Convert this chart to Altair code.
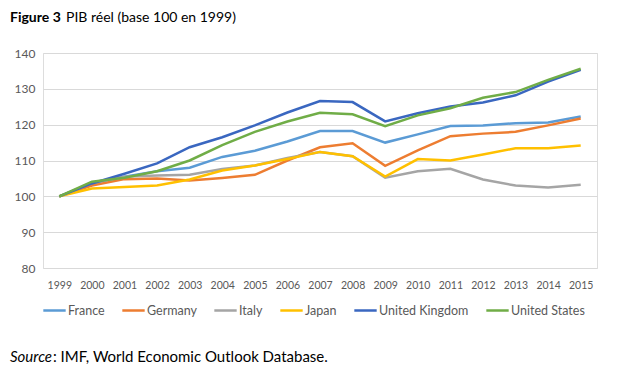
import altair as alt
import pandas as pd

years = [str(y) for y in range(1999, 2016)]
france = [100, 103.5, 105.5, 107.0, 108.0, 111.0, 112.7, 115.3, 118.2, 118.2, 115.0, 117.3, 119.6, 119.8, 120.4, 120.6, 122.3]
germany = [100, 103.0, 104.8, 105.0, 104.4, 105.1, 106.0, 110.0, 113.7, 114.8, 108.5, 112.8, 116.8, 117.5, 118.0, 119.8, 121.7]
italy = [100, 103.7, 105.5, 105.8, 106.0, 107.6, 108.6, 110.7, 112.4, 111.2, 105.2, 107.0, 107.7, 104.7, 103.0, 102.5, 103.2]
japan = [100, 102.2, 102.6, 103.0, 104.7, 107.2, 108.6, 110.4, 112.4, 111.2, 105.5, 110.4, 110.0, 111.7, 113.4, 113.4, 114.2]
uk = [100, 103.6, 106.3, 109.2, 113.7, 116.5, 119.8, 123.4, 126.6, 126.3, 120.9, 123.2, 125.1, 126.2, 128.2, 132.0, 135.3]
us = [100, 104.1, 105.2, 107.0, 110.0, 114.3, 118.0, 120.9, 123.3, 122.9, 119.6, 122.6, 124.6, 127.5, 129.1, 132.5, 135.6]

countries = ["France", "Germany", "Italy", "Japan", "United Kingdom", "United States"]
series = [france, germany, italy, japan, uk, us]
colors = ["#5B9BD5", "#ED7D31", "#A5A5A5", "#FFC000", "#3A67C0", "#70AD47"]

rows = []
for c, vals in zip(countries, series):
    for y, v in zip(years, vals):
        rows.append({"year": y, "value": v, "country": c})
df = pd.DataFrame(rows)

FONT = "Lato"

lines = alt.Chart(df).mark_line(strokeWidth=2.5).encode(
    x=alt.X("year:O", sort=years,
            scale=alt.Scale(type="point", padding=0.5),
            axis=alt.Axis(title=None, labelAngle=0, ticks=False, domain=False,
                          labelFontSize=10.5, labelColor="#595959", labelPadding=12,
                          labelFont=FONT)),
    y=alt.Y("value:Q", scale=alt.Scale(domain=[80, 140], nice=False, zero=False),
            axis=alt.Axis(title=None, values=[80, 90, 100, 110, 120, 130, 140],
                          ticks=False, domain=False, gridColor="#D9D9D9",
                          labelFontSize=12, labelColor="#595959", labelPadding=8,
                          labelFont=FONT)),
    color=alt.Color("country:N",
                    scale=alt.Scale(domain=countries, range=colors),
                    legend=alt.Legend(title=None, orient="none", direction="horizontal",
                                      legendX=-1, legendY=245,
                                      symbolType="stroke", symbolSize=500,
                                      symbolStrokeWidth=2.5, labelFontSize=12.5,
                                      labelColor="#595959", labelFont=FONT,
                                      labelOffset=1, columnPadding=12)),
)

title_df = pd.DataFrame({"t": ["Figure 3"]})
title_bold = alt.Chart(title_df).mark_text(
    align="left", baseline="middle", font=FONT, fontSize=14, fontWeight="bold", color="#000000"
).encode(text="t:N", x=alt.value(-33), y=alt.value(-35))

title_rest_df = pd.DataFrame({"t": ["PIB réel (base 100 en 1999)"]})
title_rest = alt.Chart(title_rest_df).mark_text(
    align="left", baseline="middle", font=FONT, fontSize=14, color="#000000"
).encode(text="t:N", x=alt.value(23), y=alt.value(-35))

src_df = pd.DataFrame({"t": ["Source"]})
src_it = alt.Chart(src_df).mark_text(
    align="left", baseline="middle", font=FONT, fontSize=15, fontStyle="italic", color="#000000"
).encode(text="t:N", x=alt.value(-33), y=alt.value(304))

src_rest_df = pd.DataFrame({"t": [": IMF, World Economic Outlook Database."]})
src_rest = alt.Chart(src_rest_df).mark_text(
    align="left", baseline="middle", font=FONT, fontSize=15, color="#000000"
).encode(text="t:N", x=alt.value(10), y=alt.value(304))

chart = alt.layer(lines, title_bold, title_rest, src_it, src_rest).properties(
    width=554, height=215,
    autosize=alt.AutoSizeParams(type="none"),
    padding={"left": 35, "top": 45, "right": 15, "bottom": 101},
).configure_view(stroke=None).configure(background="white")

chart.save("out.html", embed_options={"renderer": "svg", "actions": False})
